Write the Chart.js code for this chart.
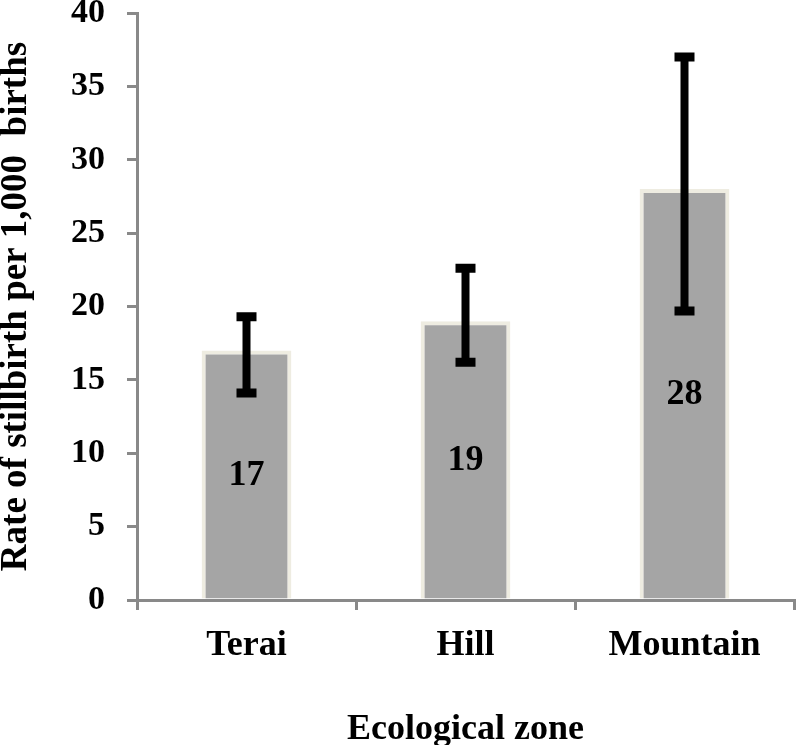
<!DOCTYPE html>
<html>
<head>
<meta charset="utf-8">
<script src="https://cdn.jsdelivr.net/npm/chart.js@4.4.0/dist/chart.umd.min.js"></script>
<style>
  html, body { margin: 0; padding: 0; background: #fff; }
  #wrap { width: 796px; height: 745px; }
</style>
</head>
<body>
<div id="wrap"><canvas id="stillChart" width="796" height="745"></canvas></div>
<script>
var zones = ["Terai", "Hill", "Mountain"];
var rates = [17, 19, 28];
var ciLow = [14.1, 16.2, 19.7];
var ciHigh = [19.3, 22.6, 37.0];
var yTicks = [0, 5, 10, 15, 20, 25, 30, 35, 40];

var axisGray = "#898989";
var serif = "'Liberation Serif', 'Times New Roman', serif";

// error bars + value labels
var extras = {
    id: 'extras',
    afterDatasetsDraw: function (chart) {
        var ctx = chart.ctx;
        var meta = chart.getDatasetMeta(0);
        var y = chart.scales.y;
        ctx.save();
        ctx.strokeStyle = "#000";
        meta.data.forEach(function (bar, i) {
            var x = bar.x;
            var top = y.getPixelForValue(ciHigh[i]);
            var bot = y.getPixelForValue(ciLow[i]);
            ctx.lineCap = 'butt';
            ctx.lineWidth = 8;
            ctx.beginPath();
            ctx.moveTo(x, top);
            ctx.lineTo(x, bot);
            ctx.stroke();
            ctx.lineWidth = 9;
            ctx.beginPath();
            ctx.moveTo(x - 10, top);
            ctx.lineTo(x + 10, top);
            ctx.moveTo(x - 10, bot);
            ctx.lineTo(x + 10, bot);
            ctx.stroke();
        });
        ctx.fillStyle = "#000";
        ctx.font = "bold 36px " + serif;
        ctx.textAlign = 'center';
        ctx.textBaseline = 'middle';
        meta.data.forEach(function (bar, i) {
            var mid = y.getPixelForValue(rates[i] / 2);
            ctx.fillText(String(rates[i]), bar.x, mid);
        });
        ctx.restore();
    }
};

var ctx = document.getElementById("stillChart").getContext('2d');
var myChart = new Chart(ctx, {
    type: 'bar',
    data: {
        labels: zones,
        datasets: [{
            data: rates,
            backgroundColor: "#a5a5a5",
            borderColor: "#eeece1",
            borderWidth: 4,
            borderSkipped: 'start',
            barPercentage: 0.41,
            categoryPercentage: 1
        }]
    },
    options: {
        responsive: false,
        animation: false,
        layout: { padding: { top: 13, right: 2, left: 0, bottom: 0 } },
        plugins: {
            legend: { display: false },
            tooltip: { enabled: false }
        },
        scales: {
            x: {
                offset: true,
                grid: {
                    offset: true,
                    drawOnChartArea: false,
                    drawTicks: true,
                    tickLength: 10,
                    color: axisGray,
                    lineWidth: 3
                },
                border: { color: axisGray, width: 3 },
                ticks: {
                    color: "#000",
                    padding: 14,
                    font: { family: serif, size: 36, weight: 'bold' }
                },
                title: {
                    display: true,
                    text: "Ecological zone",
                    color: "#000",
                    font: { family: serif, size: 36, weight: 'bold', lineHeight: 0.8 },
                    padding: { top: 0, bottom: 1 }
                },
                afterFit: function (scale) {
                    scale.height = 145;
                    scale.paddingLeft = 0;
                    scale.paddingRight = 0;
                }
            },
            y: {
                min: 0,
                max: 40,
                afterBuildTicks: function (scale) {
                    scale.ticks = yTicks.map(function (v) { return { value: v }; });
                },
                grid: {
                    drawOnChartArea: false,
                    drawTicks: true,
                    tickLength: 10,
                    color: axisGray,
                    lineWidth: 3
                },
                border: { color: axisGray, width: 3 },
                ticks: {
                    color: "#000",
                    padding: 22,
                    font: { family: serif, size: 34, weight: 'bold' }
                },
                title: {
                    display: true,
                    text: "Rate of stillbirth per 1,000  births",
                    color: "#000",
                    font: { family: serif, size: 37, weight: 'bold', lineHeight: 0.8 },
                    padding: { top: 2, bottom: 0 }
                },
                afterFit: function (scale) {
                    scale.width = 137;
                    scale.paddingTop = 0;
                    scale.paddingBottom = 0;
                }
            }
        }
    },
    plugins: [extras]
});
</script>
</body>
</html>
